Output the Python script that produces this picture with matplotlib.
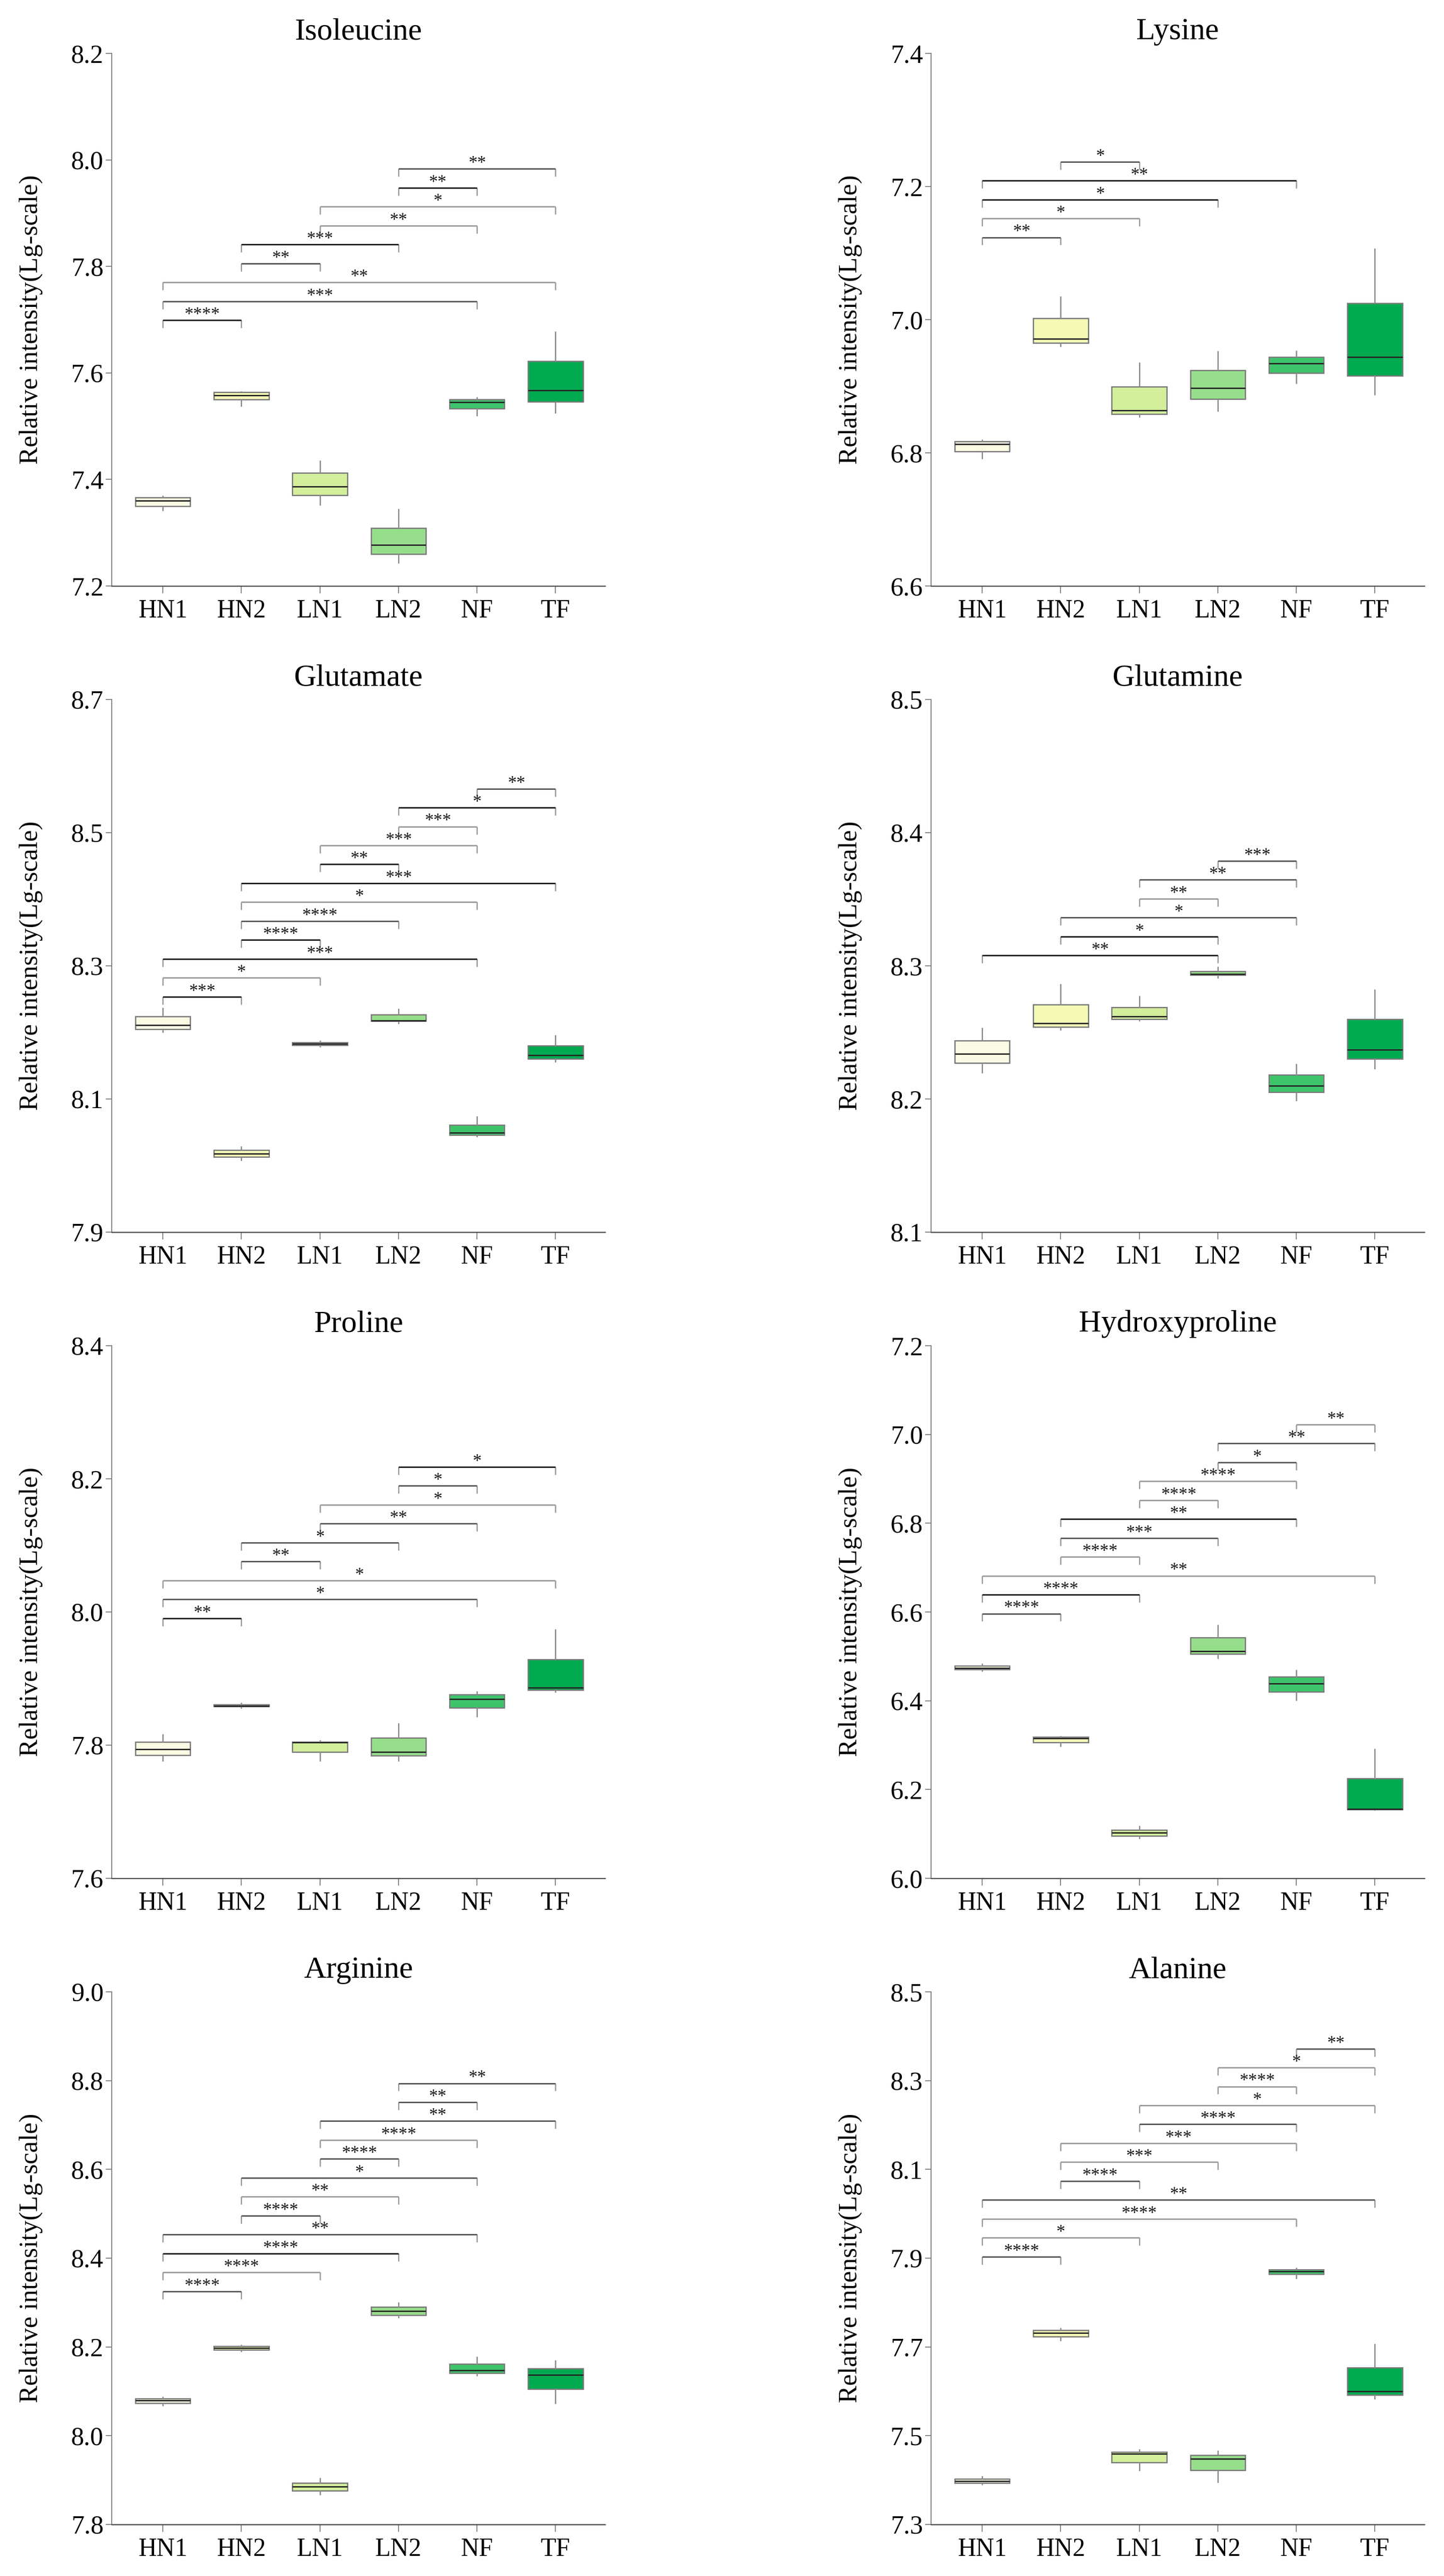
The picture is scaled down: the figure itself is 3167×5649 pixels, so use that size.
import matplotlib
matplotlib.use('Agg')
import numpy as np
import matplotlib.pyplot as plt
from matplotlib.ticker import FormatStrFormatter

plt.rcParams['font.family'] = ['Liberation Serif', 'DejaVu Serif']

# ---------------- data ----------------
groups = ['HN1', 'HN2', 'LN1', 'LN2', 'NF', 'TF']
box_colors = ['#FBFBE3', '#F4F9B6', '#D3EF9C', '#96DE8B', '#3DC46B', '#00AA50']

# Isoleucine
ile_lo = [7.342, 7.538, 7.352, 7.244, 7.520, 7.525]
ile_q1 = [7.350, 7.550, 7.370, 7.260, 7.533, 7.546]
ile_md = [7.360, 7.558, 7.387, 7.277, 7.545, 7.567]
ile_q3 = [7.366, 7.564, 7.412, 7.309, 7.550, 7.622]
ile_hi = [7.369, 7.565, 7.435, 7.344, 7.554, 7.677]
ile_pairs = [(0, 1), (0, 4), (0, 5), (1, 2), (1, 3), (2, 4), (2, 5), (3, 4), (3, 5)]
ile_stars = ['****', '***', '**', '**', '***', '**', '*', '**', '**']

# Lysine
lys_lo = [6.792, 6.960, 6.854, 6.863, 6.905, 6.888]
lys_q1 = [6.802, 6.965, 6.858, 6.881, 6.920, 6.916]
lys_md = [6.813, 6.971, 6.864, 6.897, 6.934, 6.944]
lys_q3 = [6.817, 7.002, 6.899, 6.924, 6.944, 7.025]
lys_hi = [6.819, 7.034, 6.935, 6.952, 6.953, 7.106]
lys_pairs = [(0, 1), (0, 2), (0, 3), (0, 4), (1, 2)]
lys_stars = ['**', '*', '*', '**', '*']

# Glutamate
glu_lo = [8.201, 8.008, 8.179, 8.214, 8.044, 8.156]
glu_q1 = [8.205, 8.013, 8.181, 8.217, 8.046, 8.160]
glu_md = [8.211, 8.018, 8.183, 8.218, 8.049, 8.166]
glu_q3 = [8.224, 8.023, 8.185, 8.227, 8.061, 8.180]
glu_hi = [8.236, 8.028, 8.187, 8.235, 8.073, 8.195]
glu_pairs = [(0, 1), (0, 2), (0, 4), (1, 2), (1, 3), (1, 4), (1, 5), (2, 3),
             (2, 4), (3, 4), (3, 5), (4, 5)]
glu_stars = ['***', '*', '***', '****', '****', '*', '***', '**', '***', '***', '*', '**']

# Glutamine
gln_lo = [8.220, 8.252, 8.259, 8.291, 8.199, 8.223]
gln_q1 = [8.227, 8.254, 8.260, 8.293, 8.205, 8.230]
gln_md = [8.234, 8.257, 8.262, 8.294, 8.210, 8.237]
gln_q3 = [8.244, 8.271, 8.269, 8.296, 8.218, 8.260]
gln_hi = [8.253, 8.286, 8.277, 8.299, 8.226, 8.282]
gln_pairs = [(0, 3), (1, 3), (1, 4), (2, 3), (2, 4), (3, 4)]
gln_stars = ['**', '*', '*', '**', '**', '***']

# Proline
pro_lo = [7.777, 7.856, 7.777, 7.777, 7.843, 7.880]
pro_q1 = [7.785, 7.858, 7.790, 7.784, 7.856, 7.883]
pro_md = [7.794, 7.859, 7.804, 7.790, 7.869, 7.886]
pro_q3 = [7.805, 7.861, 7.805, 7.811, 7.876, 7.929]
pro_hi = [7.816, 7.863, 7.807, 7.832, 7.880, 7.973]
pro_pairs = [(0, 1), (0, 4), (0, 5), (1, 2), (1, 3), (2, 4), (2, 5), (3, 4), (3, 5)]
pro_stars = ['**', '*', '*', '**', '*', '**', '*', '*', '*']

# Hydroxyproline
hyp_lo = [6.467, 6.298, 6.090, 6.496, 6.402, 6.154]
hyp_q1 = [6.471, 6.306, 6.096, 6.505, 6.420, 6.155]
hyp_md = [6.474, 6.315, 6.103, 6.512, 6.439, 6.156]
hyp_q3 = [6.479, 6.318, 6.109, 6.542, 6.454, 6.225]
hyp_hi = [6.483, 6.320, 6.117, 6.570, 6.468, 6.291]
hyp_pairs = [(0, 1), (0, 2), (0, 5), (1, 2), (1, 3), (1, 4), (2, 3), (2, 4),
             (3, 4), (3, 5), (4, 5)]
hyp_stars = ['****', '****', '**', '****', '***', '**', '****', '****', '*', '**', '**']

# Arginine
arg_lo = [8.068, 8.190, 7.868, 8.266, 8.136, 8.073]
arg_q1 = [8.073, 8.194, 7.876, 8.272, 8.141, 8.105]
arg_md = [8.079, 8.198, 7.885, 8.281, 8.147, 8.137]
arg_q3 = [8.084, 8.202, 7.894, 8.290, 8.162, 8.151]
arg_hi = [8.087, 8.204, 7.904, 8.299, 8.177, 8.169]
arg_pairs = [(0, 1), (0, 2), (0, 3), (0, 4), (1, 2), (1, 3), (1, 4), (2, 3),
             (2, 4), (2, 5), (3, 4), (3, 5)]
arg_stars = ['****', '****', '****', '**', '****', '**', '*', '****', '****', '**', '**', '**']

# Alanine
ala_lo = [7.390, 7.715, 7.422, 7.396, 7.855, 7.584]
ala_q1 = [7.394, 7.723, 7.440, 7.422, 7.864, 7.592]
ala_md = [7.398, 7.732, 7.459, 7.448, 7.870, 7.600]
ala_q3 = [7.403, 7.738, 7.463, 7.456, 7.874, 7.653]
ala_hi = [7.408, 7.742, 7.468, 7.465, 7.877, 7.706]
ala_pairs = [(0, 1), (0, 2), (0, 4), (0, 5), (1, 2), (1, 3), (1, 4), (2, 4),
             (2, 5), (3, 4), (3, 5), (4, 5)]
ala_stars = ['****', '*', '****', '**', '****', '***', '***', '****', '*', '****', '*', '**']

titles = ['Isoleucine', 'Lysine', 'Glutamate', 'Glutamine',
          'Proline', 'Hydroxyproline', 'Arginine', 'Alanine']
y_limits = [(7.2, 8.2), (6.6, 7.4), (7.9, 8.7), (8.1, 8.5),
            (7.6, 8.4), (6.0, 7.2), (7.8, 9.0), (7.3, 8.5)]
y_steps = [0.2, 0.2, 0.2, 0.1, 0.2, 0.2, 0.2, 0.2]

# ---------------- styles ----------------
bracket_shades = [
    'kdgdkggkd',
    'dgkkd',
    'kgkkdgkkggkd',
    'kkdgdd',
    'kdgdddgdk',
    'dkggdkggddg',
    'dgkddgddgddd',
    'dggddggdgggd',
]
shade_map = {'k': '#1a1a1a', 'd': '#575757', 'g': '#9c9c9c'}

panels = [
    (ile_lo, ile_q1, ile_md, ile_q3, ile_hi, ile_pairs, ile_stars),
    (lys_lo, lys_q1, lys_md, lys_q3, lys_hi, lys_pairs, lys_stars),
    (glu_lo, glu_q1, glu_md, glu_q3, glu_hi, glu_pairs, glu_stars),
    (gln_lo, gln_q1, gln_md, gln_q3, gln_hi, gln_pairs, gln_stars),
    (pro_lo, pro_q1, pro_md, pro_q3, pro_hi, pro_pairs, pro_stars),
    (hyp_lo, hyp_q1, hyp_md, hyp_q3, hyp_hi, hyp_pairs, hyp_stars),
    (arg_lo, arg_q1, arg_md, arg_q3, arg_hi, arg_pairs, arg_stars),
    (ala_lo, ala_q1, ala_md, ala_q3, ala_hi, ala_pairs, ala_stars),
]

W, H = 3167, 5649
fig = plt.figure(figsize=(W / 100, H / 100), dpi=100)
col_left = [245, 2042]
ax_w = 1082
row_top = [117, 1534, 2951, 4368]
ax_h = 1168

for idx, (lo, q1, md, q3, hi, pairs, stars) in enumerate(panels):
    r, c = divmod(idx, 2)
    ax = fig.add_axes([col_left[c] / W, 1 - (row_top[r] + ax_h) / H, ax_w / W, ax_h / H])
    stats = [dict(whislo=lo[i], q1=q1[i], med=md[i], q3=q3[i], whishi=hi[i], fliers=[],
                  label=groups[i]) for i in range(len(groups))]
    bp = ax.bxp(stats, positions=list(range(len(groups))), widths=0.7, patch_artist=True,
                showcaps=False, showfliers=False,
                boxprops=dict(edgecolor='#7a7a7a', linewidth=2.0),
                medianprops=dict(color='#262626', linewidth=2.2),
                whiskerprops=dict(color='#8a8a8a', linewidth=2.0))
    for patch, col in zip(bp['boxes'], box_colors):
        patch.set_facecolor(col)

    ymin, ymax = y_limits[idx]
    rng = ymax - ymin
    base = max(hi) + 0.022 * rng
    step = 0.0355 * rng
    leg = 0.0145 * rng
    shades = bracket_shades[idx]
    for k, ((i, j), s) in enumerate(zip(pairs, stars)):
        y = base + k * step
        ax.plot([i, i], [y - leg, y], color='#9c9c9c', lw=2.0, solid_capstyle='butt', zorder=3)
        ax.plot([j, j], [y - leg, y], color='#9c9c9c', lw=2.0, solid_capstyle='butt', zorder=3)
        ax.plot([i, j], [y, y], color=shade_map[shades[k]], lw=2.3,
                solid_capstyle='butt', zorder=4)
        ax.annotate(s, xy=((i + j) / 2, y), xytext=(0, 1.5), textcoords='offset points',
                    ha='center', va='baseline', fontsize=28, color='#1a1a1a', zorder=5)

    ax.set_xlim(-0.65, 5.63)
    ax.set_ylim(ymin, ymax)
    nt = int(round(rng / y_steps[idx]))
    ax.set_yticks([ymin + t * y_steps[idx] for t in range(nt + 1)])
    ax.yaxis.set_major_formatter(FormatStrFormatter('%.1f'))
    ax.set_xticks(range(len(groups)))
    ax.set_xticklabels(groups)
    for side in ('top', 'right'):
        ax.spines[side].set_visible(False)
    ax.spines['left'].set_color('#808080')
    ax.spines['left'].set_linewidth(1.6)
    ax.spines['bottom'].set_color('#4a4a4a')
    ax.spines['bottom'].set_linewidth(1.8)
    ax.tick_params(axis='y', direction='out', length=9.4, width=1.5, color='#808080',
                   pad=3.5, labelsize=41)
    ax.tick_params(axis='x', direction='out', length=11.7, width=1.5, color='#808080',
                   pad=9, labelsize=40)
    ax.set_ylabel('Relative intensity(Lg-scale)', fontsize=41)
    ax.yaxis.set_label_coords(-0.14, 0.5)
    ax.set_title(titles[idx], fontsize=49, pad=22)

fig.savefig('out.png', dpi=100)
